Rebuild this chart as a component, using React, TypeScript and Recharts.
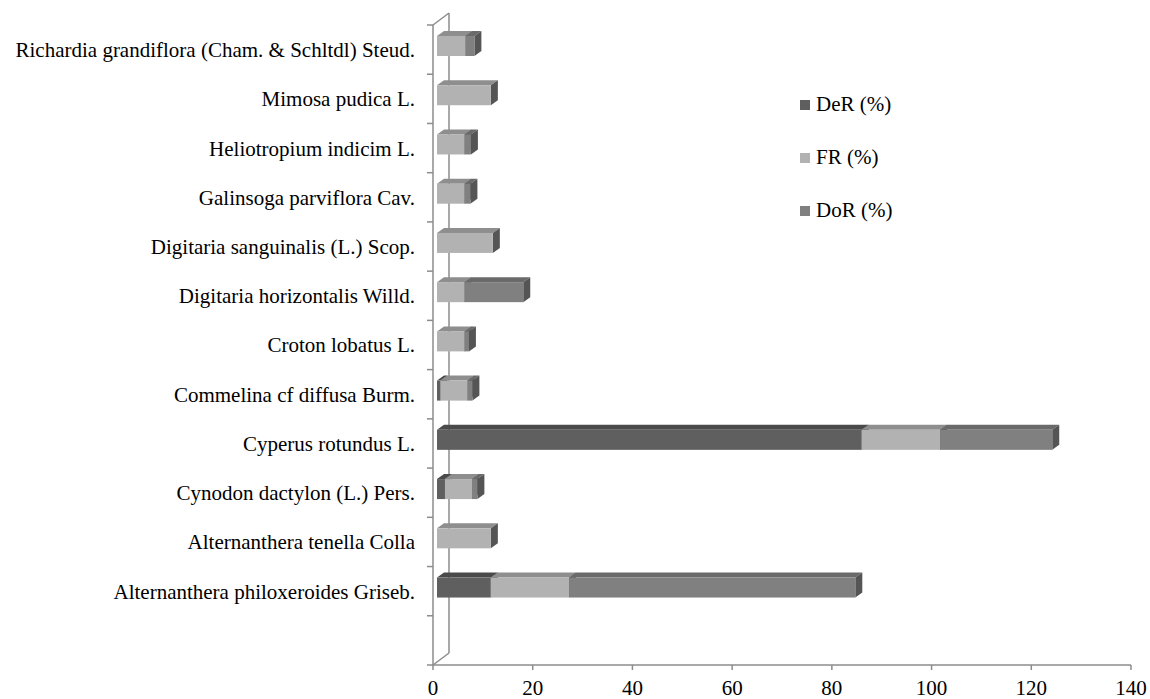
import { BarChart, Bar, XAxis, YAxis, Legend, usePlotArea } from 'recharts';

const species = [
  'Richardia grandiflora (Cham. & Schltdl) Steud.',
  'Mimosa pudica L.',
  'Heliotropium indicim L.',
  'Galinsoga parviflora Cav.',
  'Digitaria sanguinalis (L.) Scop.',
  'Digitaria horizontalis Willd.',
  'Croton lobatus L.',
  'Commelina cf diffusa Burm.',
  'Cyperus rotundus L.',
  'Cynodon dactylon (L.) Pers.',
  'Alternanthera tenella Colla',
  'Alternanthera philoxeroides Griseb.',
  '',
];

const deR = [0, 0, 0, 0, 0, 0, 0, 0.7, 85.2, 1.6, 0, 10.8, 0];
const frR = [5.7, 10.8, 5.5, 5.5, 11.2, 5.5, 5.5, 5.4, 15.7, 5.4, 10.8, 15.7, 0];
const doR = [1.8, 0, 1.3, 1.2, 0, 11.8, 0.9, 1.0, 22.5, 1.1, 0, 57.4, 0];

const seriesNames = ['DeR (%)', 'FR (%)', 'DoR (%)'];

const xTicks = [0, 20, 40, 60, 80, 100, 120, 140];

const data = species.map((name, i) => ({ name, deR: deR[i], frR: frR[i], doR: doR[i] }));

const FONT = "'Liberation Serif', 'Times New Roman', serif";
const AXIS = '#8c8c8c';

// front / top / side shades per series
const shades: Record<string, [string, string, string]> = {
  '#5f5f5f': ['#5f5f5f', '#4a4a4a', '#444444'],
  '#b2b2b2': ['#b2b2b2', '#8e8e8e', '#555555'],
  '#808080': ['#808080', '#6a6a6a', '#555555'],
};

const Bar3D = (props: any) => {
  const { x, y, width, height, fill } = props;
  if (!width || width <= 0.2) return null;
  const [front, top, side] = shades[fill] || [fill, fill, fill];
  const fx = x + 4;
  const fy = y - 4;
  const dx = 7;
  const dy = -5;
  return (
    <g>
      <polygon
        points={`${fx},${fy} ${fx + dx},${fy + dy} ${fx + width + dx},${fy + dy} ${fx + width},${fy}`}
        fill={top}
      />
      <polygon
        points={`${fx + width},${fy} ${fx + width + dx},${fy + dy} ${fx + width + dx},${fy + height + dy} ${fx + width},${fy + height}`}
        fill={side}
      />
      <rect x={fx} y={fy} width={width} height={height} fill={front} />
    </g>
  );
};

const Wall = () => {
  const area = usePlotArea();
  if (!area) return null;
  const { x, y, height } = area;
  const n = species.length;
  const band = height / n;
  const dx = 16;
  const dy = -12;
  const ticks = Array.from({ length: n + 1 }, (_, k) => y + k * band);
  return (
    <g stroke={AXIS} strokeWidth={1.5} fill="none">
      <line x1={x + dx} y1={y + dy} x2={x + dx} y2={y + height + dy} />
      <line x1={x} y1={y} x2={x + dx} y2={y + dy} />
      <line x1={x} y1={y + height} x2={x + dx} y2={y + height + dy} />
      {ticks.map((ty, k) => (
        <line key={k} x1={x - 6} y1={ty} x2={x} y2={ty} />
      ))}
    </g>
  );
};

const LegendBox = ({ payload }: any) => {
  const items = [...(payload || [])].sort(
    (a: any, b: any) => seriesNames.indexOf(a.value) - seriesNames.indexOf(b.value)
  );
  return (
    <div style={{ fontFamily: FONT, fontSize: 21, color: '#000' }}>
      {items.map((p: any) => (
        <div key={p.value} style={{ display: 'flex', alignItems: 'center', height: 53 }}>
          <span style={{ display: 'inline-block', width: 10, height: 10, background: p.color, marginRight: 6 }} />
          <span>{p.value}</span>
        </div>
      ))}
    </div>
  );
};

export default function App() {
  return (
    <div style={{ width: 1150, height: 699, background: '#fff' }}>
      <style>{'body{margin:0;}'}</style>
      <BarChart
        width={1150}
        height={699}
        data={data}
        layout="vertical"
        margin={{ top: 25, right: 19, bottom: 4, left: 0 }}
        barSize={20}
      >
        <Wall />
        <XAxis
          type="number"
          domain={[0, 140]}
          ticks={xTicks}
          allowDataOverflow
          height={30}
          tickSize={5}
          tickMargin={10}
          axisLine={{ stroke: AXIS, strokeWidth: 1.5 }}
          tickLine={{ stroke: AXIS, strokeWidth: 1.5 }}
          tick={{ fill: '#000', fontSize: 21, fontFamily: FONT }}
        />
        <YAxis
          type="category"
          dataKey="name"
          width={433}
          interval={0}
          tickSize={0}
          tickMargin={18}
          axisLine={{ stroke: AXIS, strokeWidth: 1.5 }}
          tickLine={false}
          tick={{ fill: '#000', fontSize: 21, fontFamily: FONT }}
        />
        <Legend
          layout="vertical"
          align="center"
          verticalAlign="middle"
          content={<LegendBox />}
          wrapperStyle={{ left: 800, top: 78, width: 130 }}
        />
        <Bar dataKey="deR" name={seriesNames[0]} stackId="a" fill="#5f5f5f" shape={<Bar3D />} isAnimationActive={false} />
        <Bar dataKey="frR" name={seriesNames[1]} stackId="a" fill="#b2b2b2" shape={<Bar3D />} isAnimationActive={false} />
        <Bar dataKey="doR" name={seriesNames[2]} stackId="a" fill="#808080" shape={<Bar3D />} isAnimationActive={false} />
      </BarChart>
    </div>
  );
}
